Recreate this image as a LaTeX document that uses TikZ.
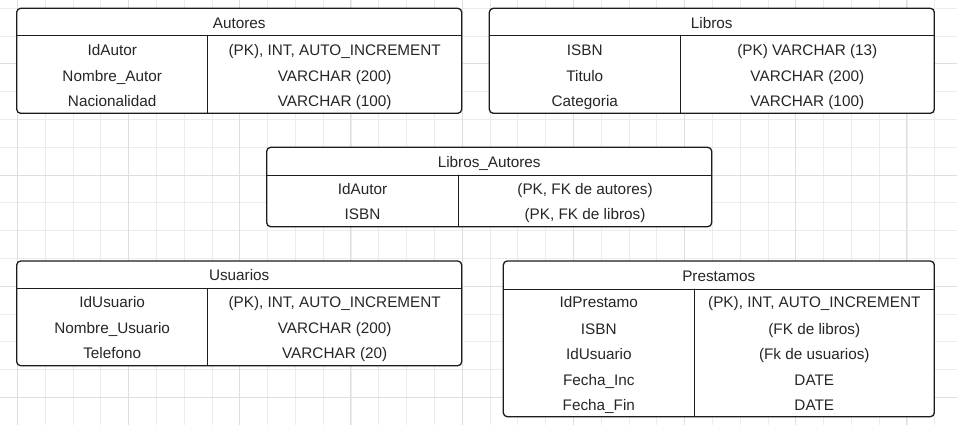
\documentclass[tikz,border=0pt]{standalone}
\usepackage{fontspec}
\setmainfont{Liberation Sans}
\usetikzlibrary{positioning}
\definecolor{linea}{RGB}{28,28,28}
\definecolor{texto}{RGB}{38,38,38}
\definecolor{rejilla}{RGB}{236,236,236}
\definecolor{rejillab}{RGB}{222,222,222}

\begin{document}
\begin{tikzpicture}[x=1pt, y=-1pt, line cap=round,
        tabla/.style={draw=linea, fill=white, line width=1.3pt, rounded corners=4pt},
        sep/.style={draw=linea, line width=1pt},
        celda/.style={text=texto, font=\fontsize{15.3}{18}\selectfont, inner sep=0pt, text height=10.9pt, text depth=0pt}]
        \useasboundingbox (0,0) rectangle (957,425);
        \fill[white] (0,0) rectangle (957,425);
        %\draw [step=27.8pt, very thin, lightgray] (0,0) grid (957,425);
        \foreach \gx in {0,...,33} \draw[rejilla, line width=0.8pt] ({17.3+27.8*\gx},0) -- ++(0,425);
        \foreach \gy in {0,...,14} \draw[rejilla, line width=0.8pt] (0,{8.2+27.8*\gy}) -- ++(957,0);
        \foreach \gx in {0,...,8} \draw[rejillab, line width=1pt] ({17.3+111.2*\gx},0) -- ++(0,425);
        \foreach \gy in {0,...,3} \draw[rejillab, line width=1pt] (0,{63.8+111.2*\gy}) -- ++(957,0);

        \draw[tabla] (16.7,8.3) rectangle (461.7,113.3);
        \draw[sep] (16.7,35.5) -- (461.7,35.5);
        \draw[sep] (207.7,35.5) -- (207.7,113.3);
        \node[celda] (autores) at (239.2,23) {Autores};
        \node[celda] (aut-c1) at (112.2,50) {IdAutor};
        \node[celda] (aut-t1) at (334.7,50) {(PK), INT, AUTO\_INCREMENT};
        \node[celda] (aut-c2) at (112.2,76) {Nombre\_Autor};
        \node[celda] (aut-t2) at (334.7,76) {VARCHAR (200)};
        \node[celda] (aut-c3) at (112.2,101.5) {Nacionalidad};
        \node[celda] (aut-t3) at (334.7,101.5) {VARCHAR (100)};

        \draw[tabla] (489.3,8.3) rectangle (934.3,113.3);
        \draw[sep] (489.3,36) -- (934.3,36);
        \draw[sep] (680.3,36) -- (680.3,113.3);
        \node[celda] (libros) at (711.8,23) {Libros};
        \node[celda] (lib-c1) at (584.8,50) {ISBN};
        \node[celda] (lib-t1) at (807.3,50) {(PK) VARCHAR (13)};
        \node[celda] (lib-c2) at (584.8,76) {Titulo};
        \node[celda] (lib-t2) at (807.3,76) {VARCHAR (200)};
        \node[celda] (lib-c3) at (584.8,101.5) {Categoria};
        \node[celda] (lib-t3) at (807.3,101.5) {VARCHAR (100)};

        \draw[tabla] (266.7,147.3) rectangle (711.7,226.7);
        \draw[sep] (266.7,175) -- (711.7,175);
        \draw[sep] (458.3,175) -- (458.3,226.7);
        \node[celda] (libaut) at (489.2,162.3) {Libros\_Autores};
        \node[celda] (la-c1) at (362.5,189) {IdAutor};
        \node[celda] (la-t1) at (585,189) {(PK, FK de autores)};
        \node[celda] (la-c2) at (362.5,214.3) {ISBN};
        \node[celda] (la-t2) at (585,214.3) {(PK, FK de libros)};

        \draw[tabla] (16.7,261) rectangle (461.7,365.7);
        \draw[sep] (16.7,288.3) -- (461.7,288.3);
        \draw[sep] (207.7,288.3) -- (207.7,365.7);
        \node[celda] (usuarios) at (239.2,275) {Usuarios};
        \node[celda] (usu-c1) at (112.2,301.7) {IdUsuario};
        \node[celda] (usu-t1) at (334.7,301.7) {(PK), INT, AUTO\_INCREMENT};
        \node[celda] (usu-c2) at (112.2,327.7) {Nombre\_Usuario};
        \node[celda] (usu-t2) at (334.7,327.7) {VARCHAR (200)};
        \node[celda] (usu-c3) at (112.2,352.7) {Telefono};
        \node[celda] (usu-t3) at (334.7,352.7) {VARCHAR (20)};

        \draw[tabla] (503.3,261) rectangle (934.3,416.7);
        \draw[sep] (503.3,289) -- (934.3,289);
        \draw[sep] (694.3,289) -- (694.3,416.7);
        \node[celda] (prestamos) at (718.8,275.7) {Prestamos};
        \node[celda] (pre-c1) at (598.8,302.3) {IdPrestamo};
        \node[celda] (pre-t1) at (814.3,302.3) {(PK), INT, AUTO\_INCREMENT};
        \node[celda] (pre-c2) at (598.8,329) {ISBN};
        \node[celda] (pre-t2) at (814.3,329) {(FK de libros)};
        \node[celda] (pre-c3) at (598.8,354) {IdUsuario};
        \node[celda] (pre-t3) at (814.3,354) {(Fk de usuarios)};
        \node[celda] (pre-c4) at (598.8,380) {Fecha\_Inc};
        \node[celda] (pre-t4) at (814.3,380) {DATE};
        \node[celda] (pre-c5) at (598.8,405) {Fecha\_Fin};
        \node[celda] (pre-t5) at (814.3,405) {DATE};
    \end{tikzpicture}
\end{document}
